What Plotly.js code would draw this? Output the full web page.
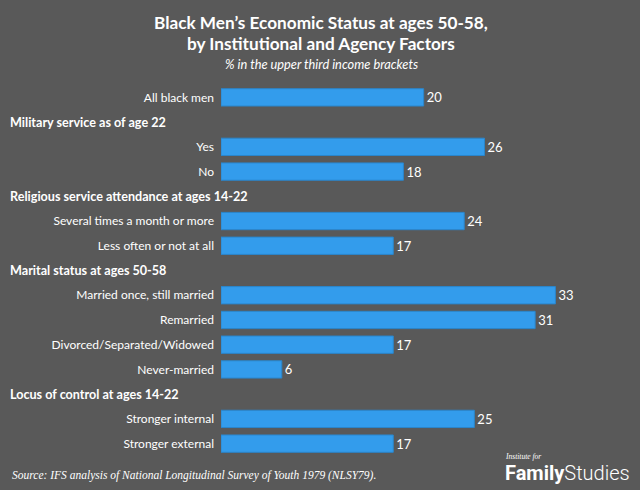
<!DOCTYPE html>
<html>
<head>
<meta charset="utf-8">
<script src="https://cdn.plot.ly/plotly-3.0.1.min.js"></script>
<style>html,body{margin:0;padding:0;background:#595959;}#chart{width:640px;height:490px;}</style>
</head>
<body>
<div id="chart"></div>
<script>
// Rows in display order (top to bottom); headers have null values
const rowLabels = [
  "All black men",
  "Military service as of age 22",
  "Yes",
  "No",
  "Religious service attendance at ages 14-22",
  "Several times a month or more",
  "Less often or not at all",
  "Marital status at ages 50-58",
  "Married once, still married",
  "Remarried",
  "Divorced/Separated/Widowed",
  "Never-married",
  "Locus of control at ages 14-22",
  "Stronger internal",
  "Stronger external"
];
const rowIsHeader = [false,true,false,false,true,false,false,true,false,false,false,false,true,false,false];
const rowValues = [20,null,26,18,null,24,17,null,33,31,17,6,null,25,17];

const font = "Lato, 'Open Sans', sans-serif";
const barY = [], barX = [], barText = [], tickVals = [], tickText = [];
const annotations = [];
rowLabels.forEach((lab, i) => {
  if (rowIsHeader[i]) {
    annotations.push({xref:'paper', yref:'y', x:-0.563, y:i, xanchor:'left', yanchor:'middle',
      text:'<b>'+lab+'</b>', showarrow:false, font:{family:font, size:12.6, color:'#ffffff'}});
  } else {
    barY.push(i); barX.push(rowValues[i]); barText.push(String(rowValues[i]));
    tickVals.push(i); tickText.push(lab);
  }
});

const cx = (321-221)/379;
annotations.push(
  {xref:'paper', yref:'paper', x:cx, y:1, yshift:63, xanchor:'center', yanchor:'middle', showarrow:false,
   text:'<b>Black Men’s Economic Status at ages 50-58,</b>', font:{family:font, size:17.2, color:'#fff'}},
  {xref:'paper', yref:'paper', x:cx, y:1, yshift:42, xanchor:'center', yanchor:'middle', showarrow:false,
   text:'<b>by Institutional and Agency Factors</b>', font:{family:font, size:17.2, color:'#fff'}},
  {xref:'paper', yref:'paper', x:cx, y:1, yshift:21, xanchor:'center', yanchor:'middle', showarrow:false,
   text:'<i>% in the upper third income brackets</i>', font:{family:font, size:12.8, color:'#fff'}},
  {xref:'paper', yref:'paper', x:-0.557, y:0, yshift:-19, xanchor:'left', yanchor:'middle', showarrow:false,
   text:'<i>Source: IFS analysis of National Longitudinal Survey of Youth 1979 (NLSY79).</i>',
   font:{family:"'Liberation Serif', serif", size:11.5, color:'#fff'}},
  {xref:'paper', yref:'paper', x:(503-221)/379, y:0, yshift:0, xanchor:'left', yanchor:'middle', showarrow:false,
   text:'<i>Institute for</i>', font:{family:"'Liberation Serif', serif", size:7.5, color:'#fff'}},
  {xref:'paper', yref:'paper', x:(503-221)/379, y:0, yshift:-17, xanchor:'left', yanchor:'middle', showarrow:false,
   text:'<b>Family</b><span style="font-weight:300">Studies</span>', font:{family:"Roboto, sans-serif", size:20, color:'#fff'}}
);

const data = [{
  type:'bar', orientation:'h', x:barX, y:barY,
  text:barText, textposition:'outside', cliponaxis:false,
  textfont:{family:font, size:13, color:'#ffffff'},
  marker:{color:'#339cec', line:{color:'#2a86cc', width:1}},
  hoverinfo:'none'
}];

const layout = {
  width:640, height:490,
  paper_bgcolor:'#595959', plot_bgcolor:'#595959',
  margin:{l:221, r:40, t:85, b:34},
  bargap:0.3,
  showlegend:false,
  xaxis:{range:[0,37.4], showgrid:false, zeroline:false, showticklabels:false, ticks:'', showline:false, fixedrange:true},
  yaxis:{range:[14.5,-0.5], tickmode:'array', tickvals:tickVals, ticktext:tickText, showgrid:false, zeroline:false,
    ticks:'', showline:false, ticklabelstandoff:6, tickfont:{family:font, size:12, color:'#ffffff'}},
  annotations:annotations
};

Plotly.newPlot('chart', data, layout, {displayModeBar:false, staticPlot:true});
</script>
</body>
</html>
